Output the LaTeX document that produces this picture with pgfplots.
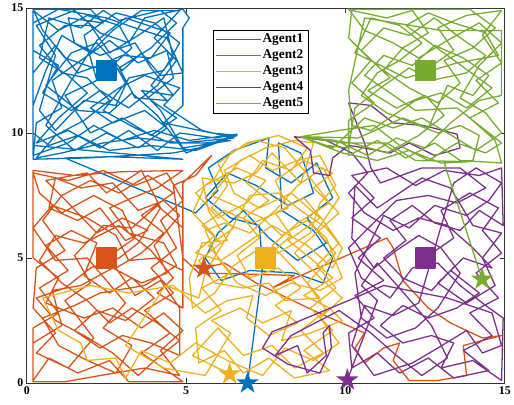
\documentclass[border=0pt]{standalone}
\usepackage{pgfplots}
\pgfplotsset{compat=1.18}
\usepackage{fontspec}
\setmainfont{Liberation Serif}

\definecolor{c1}{RGB}{0,114,189}
\definecolor{c2}{RGB}{217,83,25}
\definecolor{c3}{RGB}{237,177,32}
\definecolor{c4}{RGB}{126,47,142}
\definecolor{c5}{RGB}{119,172,48}

% filled five-pointed star used for the final positions
\pgfdeclareplotmark{fstar}{%
  \pgfpathmoveto{\pgfqpoint{0pt}{12pt}}%
  \pgfpathlineto{\pgfqpoint{2.69pt}{3.71pt}}%
  \pgfpathlineto{\pgfqpoint{11.41pt}{3.71pt}}%
  \pgfpathlineto{\pgfqpoint{4.36pt}{-1.42pt}}%
  \pgfpathlineto{\pgfqpoint{7.05pt}{-9.71pt}}%
  \pgfpathlineto{\pgfqpoint{0pt}{-4.58pt}}%
  \pgfpathlineto{\pgfqpoint{-7.05pt}{-9.71pt}}%
  \pgfpathlineto{\pgfqpoint{-4.36pt}{-1.42pt}}%
  \pgfpathlineto{\pgfqpoint{-11.41pt}{3.71pt}}%
  \pgfpathlineto{\pgfqpoint{-2.69pt}{3.71pt}}%
  \pgfpathclose
  \pgfusepathqfill}

% legend sample: a thin filled bar in a given colour
\newcommand{\legline}[1]{\addlegendimage{legend image code/.code={\fill[fill=#1, draw=none] (0pt,-0.6pt) rectangle (45pt,0.6pt);}}}

\begin{document}
\begin{tikzpicture}
\begin{axis}[
  scale only axis, width=483pt, height=379pt,
  xmin=0, xmax=15, ymin=0, ymax=15,
  xtick={0,5,10,15}, ytick={0,5,10,15},
  tick align=inside, major tick length=5pt,
  axis line style={black!80, line width=0.6pt},
  tick style={black!80, line width=0.6pt},
  /pgf/number format/assume math mode=true,
  ticklabel style={font=\fontsize{12}{12}\selectfont\bfseries},
  clip=false,
  legend cell align=left,
  legend style={at={(axis cs:5.84,14.13)}, anchor=north west,
    row sep=0pt,
    font=\fontsize{13.5}{13.5}\selectfont\bfseries,
    nodes={inner ysep=2pt, text height=9pt, text depth=3pt}},
  every axis plot/.append style={line width=1.3pt, line join=round},
]

\legline{c1}\addlegendentry{Agent1}
\legline{c2}\addlegendentry{Agent2}
\legline{c3}\addlegendentry{Agent3}
\legline{c4}\addlegendentry{Agent4}
\legline{c5}\addlegendentry{Agent5}

% Agent 1 trajectory
\addplot[c1, forget plot] table {
x y
2.5 12.5
3.3 13.4
2.9 14.3
1.9 14.7
1.0 14.1
0.2 14.9
0.2 13.3
1.0 12.7
0.5 11.6
1.4 10.9
2.3 11.7
3.2 11.0
4.1 11.9
4.7 12.9
4.0 13.8
4.8 14.9
3.6 14.9
2.7 14.1
2.0 13.2
1.1 13.9
0.6 12.5
0.2 11.1
0.2 9.1
1.3 9.6
2.1 10.3
3.0 9.7
4.0 10.1
5.1 9.7
6.6 9.95
5.4 9.4
4.6 9.2
3.3 9.1
1.9 9.0
0.2 8.95
0.3 10.4
1.1 11.0
0.8 12.1
1.7 12.9
2.6 13.7
3.5 12.8
4.4 13.3
4.6 12.2
3.8 11.4
4.7 10.6
3.9 9.9
3.0 10.6
2.0 10.0
1.2 11.5
2.2 12.1
1.8 13.9
2.8 14.8
4.0 14.4
4.8 13.6
4.3 12.5
3.2 12.2
2.8 11.1
1.8 11.3
0.9 10.1
0.4 10.9
0.9 13.1
0.3 14.3
1.5 14.9
2.3 14.0
3.2 13.6
3.7 14.6
4.9 14.95
5.1 14.6
4.9 14.2
4.9 11.1
4.3 10.4
5.8 10.0
6.6 9.9
5.3 9.3
3.9 9.5
2.6 9.3
1.6 9.9
0.7 9.5
0.2 10.0
0.2 12.4
0.9 13.5
1.6 12.4
2.7 12.9
3.1 12.0
2.4 10.9
3.4 10.2
4.5 9.6
5.6 9.6
6.4 9.7
4.9 9.4
4.2 10.9
3.6 11.7
4.6 11.5
3.9 12.6
3.4 13.6
2.3 13.1
1.5 13.6
1.3 14.6
2.4 14.4
2.0 14.95
0.2 14.95
0.5 14.1
1.2 13.0
2.1 12.6
3.0 13.1
3.9 13.0
4.5 14.0
3.1 14.6
2.2 13.7
1.4 12.1
0.6 10.3
1.5 9.3
2.5 10.0
3.5 9.4
4.4 10.2
3.7 10.9
2.7 10.4
2.0 11.0
2.9 11.8
3.7 12.3
4.8 11.8
4.3 11.1
5.5 10.1
6.5 9.8
4.9 9.6
3.5 9.8
2.4 9.6
1.1 9.2
0.3 9.0
0.9 9.9
1.8 10.5
2.6 11.3
1.9 12.2
1.1 12.4
0.4 13.5
1.2 14.3
2.0 14.3
2.6 13.2
3.5 13.9
4.3 14.6
4.6 13.0
3.9 11.9
4.4 11.3
3.4 11.4
2.9 12.6
3.9 13.4
4.7 14.4
4.2 14.9
2.9 14.5
2.4 14.9
1.7 14.2
0.7 14.6
0.4 13.0
1.3 12.3
1.9 11.6
1.0 10.6
0.3 9.6
1.3 10.1
2.3 9.4
3.2 10.1
4.1 9.3
4.8 10.0
5.9 9.8
6.6 9.95
5.0 9.2
4.1 10.7
3.3 11.6
2.6 10.8
1.6 10.9
0.6 11.9
1.4 13.2
2.2 13.6
3.0 12.5
3.6 13.2
4.2 12.3
4.9 12.4
4.4 13.8
3.4 14.2
2.5 14.6
1.0 14.95
0.2 14.4
0.2 9.5
4.9 8.95
2.6 9.05
1.2 9.0
5.3 6.8
6.0 7.7
5.7 8.6
6.5 9.3
7.6 9.8
7.5 8.6
8.3 8.0
9.1 8.8
9.6 7.4
8.8 6.6
9.4 5.6
8.5 4.9
7.6 5.8
6.8 6.9
6.0 6.0
5.6 5.0
6.1 4.1
7.0 4.5
8.4 4.4
9.3 4.0
9.6 5.0
9.0 6.1
8.0 6.9
7.9 9.6
8.6 9.2
9.0 7.6
8.2 7.1
7.2 7.9
6.3 8.4
5.6 7.4
6.4 6.6
7.3 6.3
7.4 4.6
6.93 0.0
};

% Agent 2 trajectory
\addplot[c2, forget plot] table {
x y
2.5 5.0
3.4 5.8
3.0 6.9
2.1 7.5
1.1 6.8
0.4 7.6
0.2 8.4
1.3 8.1
2.4 8.5
3.4 7.9
4.4 8.4
4.9 7.3
4.2 6.5
4.7 5.4
3.9 4.6
4.6 3.6
3.7 2.9
4.5 2.0
3.6 1.2
4.4 0.5
4.9 0.05
3.2 0.05
2.6 0.9
1.6 0.4
0.7 1.0
0.2 0.1
0.2 2.2
1.0 2.8
0.4 3.8
1.3 4.5
0.6 5.5
1.4 6.1
2.2 5.6
1.8 4.3
2.6 3.6
3.3 4.2
4.0 3.4
3.1 2.5
2.2 2.9
1.5 2.1
2.3 1.4
3.0 1.9
3.9 1.6
4.8 1.1
4.8 3.0
4.2 4.1
3.4 3.5
2.8 4.6
3.6 5.2
4.3 6.0
3.6 6.7
4.6 7.6
3.8 8.3
2.9 7.6
2.0 8.1
1.1 7.5
0.5 6.5
1.2 5.3
0.3 4.6
0.2 3.0
0.9 2.0
0.3 1.2
1.3 0.6
2.1 1.8
1.2 3.3
2.0 4.0
1.5 5.1
2.4 6.3
3.3 6.2
4.1 7.1
4.9 6.2
4.9 4.5
4.1 5.0
3.2 4.9
2.8 5.9
1.9 6.6
0.8 7.1
0.2 6.2
0.9 4.9
1.9 5.0
2.5 4.1
3.1 3.2
2.4 2.2
3.3 1.5
2.8 0.4
1.9 0.9
1.0 1.5
0.5 2.6
1.5 3.1
2.3 3.6
3.7 3.9
4.7 4.7
4.3 5.6
3.2 6.0
2.6 7.0
3.3 7.4
4.1 7.8
4.9 8.5
3.0 8.45
1.5 8.3
0.2 8.5
0.2 5.0
1.0 4.2
0.6 3.2
1.8 2.6
2.7 3.0
3.6 2.2
4.3 2.8
4.9 2.1
4.2 1.3
4.8 0.3
3.7 0.6
2.3 0.3
1.2 0.05
0.2 0.05
0.2 1.6
1.1 2.3
0.8 3.7
1.7 3.9
2.7 4.6
3.6 4.0
4.4 4.4
4.0 5.5
4.8 6.7
4.3 7.3
3.5 6.9
2.7 8.0
1.7 7.8
0.9 8.2
0.7 7.0
1.6 6.5
2.3 7.0
3.1 5.7
3.8 6.1
3.0 6.6
2.2 6.0
1.3 7.2
0.6 8.1
1.9 8.4
2.5 7.6
3.6 8.5
4.2 7.0
3.5 5.6
2.9 5.0
2.0 4.6
1.2 3.8
0.3 3.4
0.9 2.5
1.8 1.9
2.7 1.2
3.5 0.3
4.1 1.0
4.8 1.7
4.1 2.4
3.3 3.0
2.6 2.4
1.9 3.3
1.1 4.0
0.4 4.9
0.9 5.9
1.8 5.6
2.9 6.3
3.9 5.3
4.6 4.2
4.1 3.6
4.9 3.0
4.9 5.6
4.9 8.0
5.8 9.1
5.3 8.3
4.6 7.9
4.9 5.0
5.4 4.4
7.1 4.35
8.4 4.3
7.7 3.8
11.3 5.8
11.5 5.4
11.8 4.1
12.6 3.0
13.3 2.4
14.3 1.8
14.9 1.9
13.7 1.5
13.8 0.3
12.9 0.1
12.0 0.1
11.5 0.9
11.7 1.6
11.2 1.4
10.6 0.8
10.3 1.4
10.6 2.0
9.0 2.9
7.2 4.0
6.2 4.8
5.56 4.59
};

% Agent 3 trajectory
\addplot[c3, forget plot] table {
x y
7.5 5.0
8.3 5.9
7.8 6.8
8.7 7.4
9.3 6.5
9.8 5.6
9.1 4.7
9.7 3.8
8.9 3.0
9.6 2.1
8.7 1.3
9.5 0.5
8.4 0.2
7.6 1.0
6.8 0.4
6.2 1.3
5.4 0.8
5.3 2.2
6.1 2.9
5.5 3.8
6.4 4.4
5.7 5.5
6.5 6.2
5.8 7.0
6.3 7.9
6.0 8.8
6.9 9.6
7.9 9.9
8.8 9.4
8.3 8.5
7.4 8.9
6.9 8.0
7.6 7.3
6.8 6.6
7.3 5.8
6.6 5.1
7.0 4.2
7.9 4.6
8.6 3.8
7.8 3.1
8.5 2.4
7.6 1.9
6.9 2.6
7.1 3.5
6.3 3.3
5.6 2.8
4.6 3.9
3.2 3.6
2.0 3.9
0.5 3.4
1.0 2.1
1.7 1.6
1.9 0.9
2.8 1.0
3.1 0.2
3.6 1.3
4.5 0.8
5.3 1.6
6.3 0.9
7.4 0.3
8.1 1.4
9.0 0.9
9.8 1.6
9.2 2.6
9.9 3.4
9.3 4.1
8.4 5.2
9.0 5.9
9.8 6.8
9.0 7.8
9.6 8.4
8.7 8.9
7.8 8.1
8.2 7.0
7.1 6.4
6.2 6.9
5.5 6.3
6.1 5.6
5.4 4.9
5.9 4.0
6.8 3.8
7.6 4.0
8.1 3.3
9.2 3.4
8.6 4.3
7.7 5.5
8.5 6.4
9.5 7.2
8.9 8.2
8.1 9.4
7.2 9.7
6.4 9.2
5.9 8.2
5.3 7.6
6.0 6.6
6.9 7.2
7.5 8.1
6.6 8.6
5.6 7.9
5.2 6.8
5.9 5.9
5.3 5.2
6.1 4.9
6.9 5.6
7.7 6.3
8.8 5.5
9.6 4.6
9.9 5.4
9.4 6.2
8.6 6.9
7.9 7.6
7.0 7.5
6.4 6.1
5.6 4.4
5.4 3.4
4.35 3.9
3.1 1.5
4.3 0.6
5.6 0.3
6.4 2.0
5.8 2.5
6.7 3.0
7.4 2.4
8.3 2.9
8.0 1.7
8.9 2.0
9.9 2.5
9.5 3.0
8.7 3.5
9.6 4.2
8.9 5.0
8.2 5.7
9.2 6.6
8.3 7.6
7.3 7.0
6.5 7.6
6.2 8.5
7.0 9.1
7.7 8.5
8.5 8.9
9.2 9.1
9.7 7.9
9.2 7.2
8.9 6.0
7.9 5.2
7.2 5.3
6.5 4.7
5.9 3.6
5.2 3.0
5.1 4.2
5.5 5.6
6.3 5.7
5.7 6.9
5.5 8.2
6.5 8.0
7.2 8.4
7.7 9.2
8.6 8.0
9.0 9.6
8.4 9.7
7.5 9.4
6.7 8.9
5.8 7.5
6.7 7.0
7.4 6.6
8.0 5.9
8.8 6.5
9.4 5.8
9.9 4.2
9.2 3.7
8.3 4.0
7.5 3.5
6.6 4.0
6.0 5.0
5.6 6.1
6.2 6.4
7.0 6.0
7.8 6.9
8.5 7.9
9.3 8.6
9.8 7.4
9.1 6.1
9.7 5.2
8.8 4.0
9.4 2.9
8.6 2.1
9.3 1.2
8.4 0.6
7.7 1.5
6.8 1.1
6.0 2.2
5.2 1.1
6.37 0.36
};

% Agent 4 trajectory
\addplot[c4, forget plot] table {
x y
12.5 5.0
13.4 5.8
13.0 6.9
13.9 7.6
14.8 7.0
14.3 6.1
14.9 5.2
14.1 4.4
14.8 3.4
13.9 2.8
14.6 1.9
13.7 1.3
14.5 0.5
13.4 0.2
12.6 1.0
11.7 0.4
11.0 1.2
10.2 0.6
10.1 2.0
10.9 2.6
10.3 3.5
11.2 4.1
10.4 5.0
11.1 5.8
10.2 6.6
10.9 7.4
10.2 8.3
11.3 8.6
12.2 7.9
13.1 8.5
14.2 8.3
14.9 8.6
14.95 6.3
14.2 6.9
13.6 6.1
12.8 6.4
12.1 7.1
11.4 6.5
11.9 5.7
11.2 5.0
11.8 4.2
12.7 3.7
13.3 4.5
14.2 3.6
13.5 3.0
12.6 2.6
11.8 3.1
11.1 2.3
11.8 1.6
12.7 1.9
13.4 1.6
13.0 0.6
14.0 0.9
14.9 0.1
14.95 2.6
14.4 3.1
13.6 3.9
12.9 4.8
12.1 4.6
11.4 3.4
10.5 4.2
10.1 5.4
10.8 6.3
11.6 7.3
12.6 7.5
13.5 7.2
14.4 7.8
13.6 8.6
12.4 8.6
11.1 8.0
10.8 8.6
10.6 9.6
10.1 11.2
10.8 11.1
11.5 10.4
12.45 10.3
13.5 9.95
13.6 9.4
12.8 9.1
12.0 9.6
11.4 9.2
10.6 9.4
10.1 9.5
9.6 9.0
9.5 8.3
9.0 8.4
8.9 9.3
8.4 9.85
9.4 9.7
10.2 9.2
10.7 8.4
10.1 7.6
10.6 6.8
11.5 6.1
12.3 6.6
13.2 6.3
14.0 5.4
14.6 4.6
13.7 5.0
12.9 4.0
13.8 3.2
14.7 3.9
14.3 5.0
14.9 6.0
14.0 6.3
13.3 7.8
12.4 8.2
11.7 7.6
11.0 7.0
10.3 7.9
10.2 5.8
10.9 4.6
11.6 5.3
12.3 5.9
13.0 5.4
13.6 4.4
12.9 3.0
12.2 2.2
11.3 1.8
10.5 2.6
10.3 4.4
11.2 6.7
12.0 6.2
12.8 7.1
13.8 6.7
14.5 7.3
14.9 8.0
14.1 8.6
13.4 8.0
12.3 3.2
11.5 2.7
10.6 3.1
10.2 1.5
10.9 0.3
12.1 0.8
12.9 1.4
13.8 2.1
14.3 1.2
14.9 1.5
14.6 2.8
13.2 3.4
11.2 3.9
10.1 3.3
8.4 2.4
7.7 2.05
7.4 1.4
8.2 0.75
9.2 0.4
9.56 1.4
9.5 2.3
9.3 2.0
9.4 1.1
8.8 0.4
8.5 1.5
7.8 1.1
8.3 1.9
9.8 2.9
10.8 2.0
11.6 1.1
12.4 0.3
13.2 1.0
12.7 2.3
11.9 3.5
11.0 4.8
10.5 3.9
11.0 3.3
10.06 0.12
};

% Agent 5 trajectory
\addplot[c5, forget plot] table {
x y
12.5 12.5
13.4 13.3
12.9 14.2
13.8 14.7
14.9 14.9
14.3 13.9
14.9 12.8
14.1 12.1
14.8 11.2
13.9 10.6
14.7 9.7
14.9 8.8
13.6 8.9
12.8 9.6
11.9 9.0
11.0 9.7
10.1 9.1
10.1 10.5
10.9 11.2
10.2 12.0
10.8 12.9
10.1 13.8
10.2 14.9
11.3 14.6
12.1 14.9
12.6 14.0
11.8 13.4
11.2 12.5
12.0 11.8
12.9 11.2
13.6 12.0
13.1 12.9
14.0 13.4
14.7 14.2
13.9 14.95
11.5 14.95
10.1 14.95
10.6 14.1
11.5 13.6
12.3 13.0
13.2 13.7
14.2 14.4
14.9 13.6
14.2 12.7
13.6 11.4
14.4 10.8
14.9 10.0
14.1 9.3
13.2 10.0
12.4 10.6
11.5 10.2
10.6 10.6
9.6 9.4
8.6 9.85
10.2 9.6
11.3 9.2
12.3 9.9
13.1 10.7
12.5 11.5
11.6 11.0
10.7 11.7
11.4 12.2
10.5 13.3
11.2 14.2
12.0 13.9
12.8 14.6
13.5 13.9
14.4 13.1
13.8 12.4
12.7 12.1
12.0 12.6
11.1 11.8
10.3 11.0
10.1 9.4
9.4 9.5
8.6 9.85
9.8 10.1
10.9 10.3
11.7 9.5
12.6 8.9
13.5 9.6
14.4 9.2
14.9 9.6
14.2 10.3
13.5 11.0
12.2 10.9
11.4 11.6
10.6 12.3
11.2 13.1
12.1 12.7
12.8 13.5
13.7 13.0
14.5 12.3
14.0 11.5
13.2 11.9
12.6 10.2
11.8 10.6
10.4 9.8
8.6 9.85
9.9 9.2
11.0 8.9
12.0 9.3
13.0 8.8
14.0 8.9
14.2 9.9
13.6 10.3
12.9 10.0
11.3 10.8
10.5 11.5
11.0 12.4
11.7 12.9
12.4 13.6
11.7 14.3
10.8 14.6
10.3 13.2
11.9 12.2
13.5 12.8
14.8 13.1
14.4 14.0
13.4 14.4
12.6 14.8
11.9 14.3
14.6 11.8
13.8 11.0
13.0 11.6
12.2 11.3
10.8 10.1
10.2 10.3
10.1 11.7
10.6 14.6
13.0 14.1
14.9 14.1
14.9 11.5
14.2 11.3
13.3 10.4
12.5 9.4
11.6 9.8
10.7 9.1
9.7 9.7
8.6 9.85
9.9 9.6
11.3 9.6
12.2 8.9
13.9 8.85
13.1 8.8
14.29 4.15
};

% starting squares
\addplot[c1, only marks, mark=square*, mark size=10pt, forget plot] coordinates {(2.5,12.5)};
\addplot[c2, only marks, mark=square*, mark size=10pt, forget plot] coordinates {(2.5,5)};
\addplot[c3, only marks, mark=square*, mark size=10pt, forget plot] coordinates {(7.5,5)};
\addplot[c4, only marks, mark=square*, mark size=10pt, forget plot] coordinates {(12.5,5)};
\addplot[c5, only marks, mark=square*, mark size=10pt, forget plot] coordinates {(12.5,12.5)};

% final positions
\addplot[c1, only marks, mark=fstar, forget plot] coordinates {(6.93,0.0)};
\addplot[c2, only marks, mark=fstar, forget plot] coordinates {(5.56,4.59)};
\addplot[c3, only marks, mark=fstar, forget plot] coordinates {(6.37,0.36)};
\addplot[c4, only marks, mark=fstar, forget plot] coordinates {(10.06,0.12)};
\addplot[c5, only marks, mark=fstar, forget plot] coordinates {(14.29,4.15)};
\end{axis}
\path ([shift={(-27pt,-22pt)}]current axis.south west) rectangle ([shift={(4pt,8pt)}]current axis.north east);
\end{tikzpicture}
\end{document}
